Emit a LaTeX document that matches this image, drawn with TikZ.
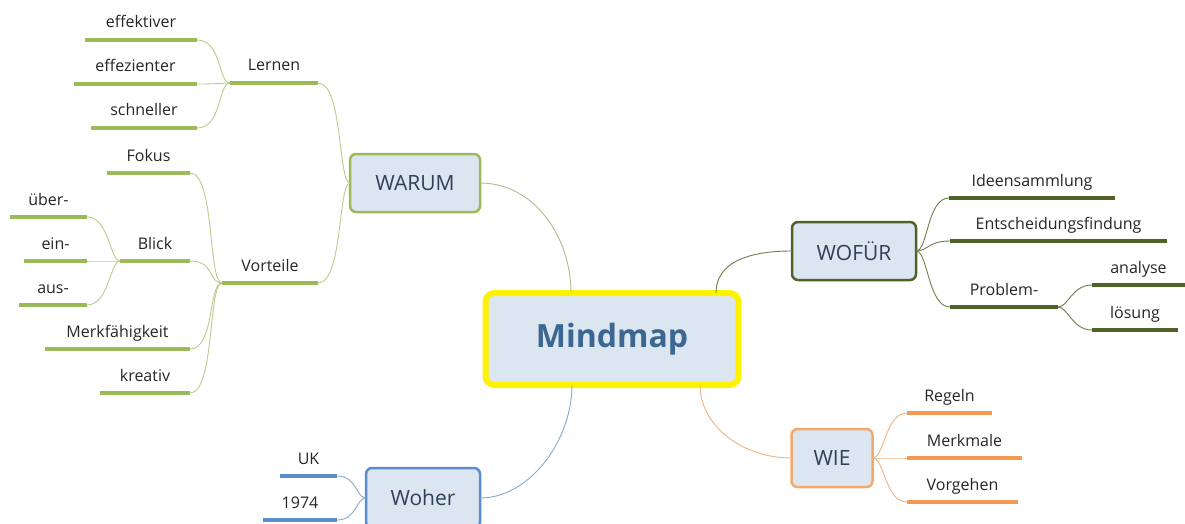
\documentclass[tikz,border=0pt]{standalone}
\usepackage{fontspec}
\setmainfont{Open Sans}
\definecolor{gA}{HTML}{9BBB59}
\definecolor{gAc}{HTML}{B9CC8E}
\definecolor{gB}{HTML}{4F6228}
\definecolor{gBc}{HTML}{6E7F4C}
\definecolor{oA}{HTML}{F29A52}
\definecolor{oAc}{HTML}{F2B37E}
\definecolor{bA}{HTML}{5B8DCB}
\definecolor{bAc}{HTML}{89A9D0}
\definecolor{boxfill}{HTML}{DCE6F1}
\definecolor{boxtext}{HTML}{2F4058}
\definecolor{roottext}{HTML}{3B6790}
\definecolor{leaftxt}{HTML}{262626}
\tikzset{
  leaftext/.style={font=\fontsize{16}{18}\selectfont, text=leaftxt, inner sep=0pt},
  mainbox/.style={draw, line width=2.5pt, rounded corners=6pt, fill=boxfill, text=boxtext,
    font=\fontsize{21}{24}\selectfont, inner sep=0pt, outer sep=0pt},
  conn/.style={line width=0.9pt},
}
\newcommand\leaf[6]{%
  \coordinate (#1-l) at (#3,#5);
  \coordinate (#1-r) at (#4,#5);
  \draw[line width=4pt, #6] (#1-l) -- (#1-r);
  \node[leaftext, anchor=base] (#1) at ({(#3+#4)/2},#5-12) {#2};
}
\begin{document}
\begin{tikzpicture}[x=1pt,y=-1pt]
\useasboundingbox (0,0) rectangle (1185,524);
\fill[white] (0,0) rectangle (1185,524);
\begin{scope}
\clip (0,0) rectangle (1185,524);

% main boxes
\node[mainbox, draw=gA, minimum width=130pt, minimum height=58pt] (warum) at (415,183) {WARUM};
\node[mainbox, draw=gB, minimum width=124pt, minimum height=58pt] (wofuer) at (854,251) {WOFÜR};
\node[mainbox, draw=oA!85, minimum width=81pt, minimum height=58pt] (wie) at (832,458) {WIE};
\node[mainbox, draw=bA, minimum width=114pt, minimum height=60pt] (woher) at (423,498) {Woher};
\node[draw=yellow, line width=6pt, rounded corners=9pt, fill=boxfill, text=roottext,
  font=\fontsize{32}{36}\selectfont\bfseries, inner sep=0pt, outer sep=0pt,
  minimum width=253pt, minimum height=92pt] (root) at (612,339) {Mindmap};

% root connectors
\coordinate (rw) at (571,293);
\coordinate (rf) at (716,293);
\coordinate (rwie) at (700,385);
\coordinate (rwo) at (572,385);
\draw[conn, color=gAc!80!gray] (warum.east) .. controls +(55,0) and +(0,-55) .. (rw);
\draw[conn, color=gBc] (rf) .. controls +(0,-30) and +(-45,0) .. (wofuer.west);
\draw[conn, color=oAc] (rwie) .. controls +(0,40) and +(-50,0) .. (wie.west);
\draw[conn, color=bAc] (rwo) .. controls +(0,55) and +(50,0) .. (woher.east);

% WARUM branch
\leaf{lernen}{Lernen}{230}{318}{83}{gA}
\leaf{vorteile}{Vorteile}{222}{318}{283}{gA}
\leaf{effektiver}{effektiver}{85}{197}{40}{gA}
\leaf{effezienter}{effezienter}{74}{197}{84}{gA}
\leaf{schneller}{schneller}{91}{197}{128}{gA}
\leaf{fokus}{Fokus}{107}{190}{173}{gA}
\leaf{blick}{Blick}{120}{190}{261}{gA}
\leaf{merk}{Merkfähigkeit}{45}{190}{349}{gA}
\leaf{kreativ}{kreativ}{100}{190}{393}{gA}
\leaf{ueber}{über-}{10}{87}{217}{gA}
\leaf{ein}{ein-}{24}{87}{261}{gA}
\leaf{aus}{aus-}{19}{87}{305}{gA}

\draw[conn, gAc] (warum.west) .. controls +(-12,0) and +(25,0) .. (lernen-r);
\draw[conn, gAc] (warum.west) .. controls +(-12,0) and +(25,0) .. (vorteile-r);
\foreach \c in {effektiver,effezienter,schneller}
  \draw[conn, gAc] (lernen-l) .. controls +(-12,0) and +(25,0) .. (\c-r);
\foreach \c in {fokus,blick,merk,kreativ}
  \draw[conn, gAc] (vorteile-l) .. controls +(-14,0) and +(25,0) .. (\c-r);
\foreach \c in {ueber,ein,aus}
  \draw[conn, gAc] (blick-l) .. controls +(-10,0) and +(22,0) .. (\c-r);

% WOFUER branch
\leaf{ideen}{Ideensammlung}{949}{1115}{198}{gB}
\leaf{entsch}{Entscheidungsfindung}{950}{1167}{241}{gB}
\leaf{problem}{Problem-}{950}{1058}{307}{gB}
\leaf{analyse}{analyse}{1092}{1185}{285}{gB}
\leaf{loesung}{lösung}{1092}{1178}{330}{gB}
\foreach \c in {ideen,entsch,problem}
  \draw[conn, gBc] (wofuer.east) .. controls +(12,0) and +(-22,0) .. (\c-l);
\foreach \c in {analyse,loesung}
  \draw[conn, gBc] (problem-r) .. controls +(10,0) and +(-20,0) .. (\c-l);

% WIE branch
\leaf{regeln}{Regeln}{907}{992}{413}{oA}
\leaf{merkmale}{Merkmale}{907}{1022}{458}{oA}
\leaf{vorgehen}{Vorgehen}{907}{1018}{502}{oA}
\foreach \c in {regeln,merkmale,vorgehen}
  \draw[conn, oAc] (wie.east) .. controls +(12,0) and +(-22,0) .. (\c-l);

% Woher branch
\leaf{uk}{UK}{280}{337}{476}{bA}
\leaf{jahr}{1974}{263}{337}{520}{bA}
\foreach \c in {uk,jahr}
  \draw[conn, bAc] (woher.west) .. controls +(-10,0) and +(20,0) .. (\c-r);
\end{scope}
\end{tikzpicture}
\end{document}
